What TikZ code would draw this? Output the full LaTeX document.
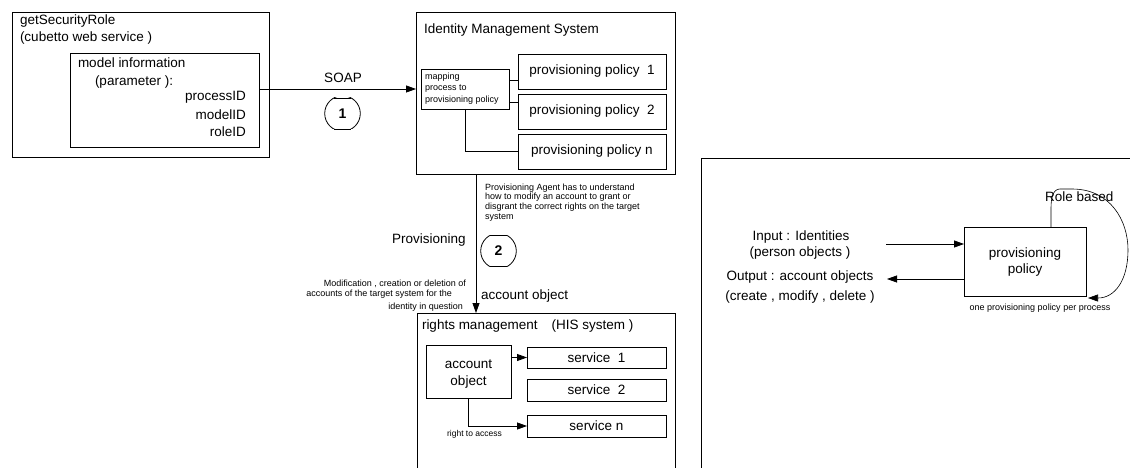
\documentclass[tikz,border=0pt]{standalone}
\usepackage{fontspec}
\setmainfont{Liberation Sans}
\usetikzlibrary{arrows.meta,calc}
\newcommand{\flatcirc}[1]{%
  \begin{scope}
    \clip ($(#1)+(-20,-15.5)$) rectangle ($(#1)+(20,15.5)$);
    \draw[line width=0.8pt] (#1) circle[radius=17.8pt];
  \end{scope}
  \draw[line width=0.8pt] ($(#1)+(-8.8,-15.5)$) -- ($(#1)+(8.8,-15.5)$);
  \draw[line width=0.8pt] ($(#1)+(-8.8,15.5)$) -- ($(#1)+(8.8,15.5)$);}
\begin{document}
\begin{tikzpicture}[x=1pt,y=-1pt,
  every node/.style={font=\fontsize{13.5}{17}\selectfont, inner sep=0pt, outer sep=0pt},
  box/.style={draw, line width=0.8pt, anchor=north west},
  small/.style={font=\fontsize{9}{10.5}\selectfont},
  tiny/.style={font=\fontsize{8.5}{10}\selectfont},
  num/.style={font=\fontsize{14}{16}\bfseries},
  conn/.style={line width=0.8pt},
  arr/.style={line width=0.8pt, -{Triangle[length=10pt,width=7pt]}},
]
\clip (0,0) rectangle (1130,468);
\fill[white] (0,0) rectangle (1130,468);

% ---------- getSecurityRole ----------
\node[box, minimum width=257pt, minimum height=145pt] (gsr) at (12,12) {};
\node[anchor=base west] (gsr1) at (20,24.5) {getSecurityRole};
\node[anchor=base west] (gsr2) at (20,41.5) {(cubetto web service )};
\node[box, minimum width=189pt, minimum height=94pt] (mi) at (70,53) {};
\node[anchor=base west] (mi1) at (78,68) {model information};
\node[anchor=base west] (mi2) at (95,85.5) {(parameter ):};
\node[anchor=base east] (mi3) at (246,101) {processID};
\node[anchor=base east] (mi4) at (246,119.5) {modelID};
\node[anchor=base east] (mi5) at (246,137) {roleID};

% ---------- SOAP ----------
\coordinate (soapy) at (0,89);
\node[anchor=base] (soap) at (343,83) {SOAP};
\node[num] (c1) at (342.5,113.5) {1};
\flatcirc{c1}

% ---------- Identity Management System ----------
\node[box, minimum width=259pt, minimum height=162pt] (ims) at (416,12) {};
\node[anchor=base west] (imst) at (424,34) {Identity Management System};
\node[box, minimum width=88pt, minimum height=40pt] (map) at (421,69) {};
\node[small, anchor=base west] (map1) at (425,79.5) {mapping};
\node[small, anchor=base west] (map2) at (425,91) {process to};
\node[small, anchor=base west] (map3) at (425,103) {provisioning policy};
\node[box, minimum width=148pt, minimum height=35pt] (pp1) at (518,54) {};
\node (pp1t) at (pp1.center) {provisioning policy\ \ 1};
\node[box, minimum width=148pt, minimum height=35pt] (pp2) at (518,94) {};
\node (pp2t) at (pp2.center) {provisioning policy\ \ 2};
\node[box, minimum width=148pt, minimum height=35pt] (ppn) at (518,134) {};
\node (ppnt) at (ppn.center) {provisioning policy n};
\coordinate (y80) at (0,80);
\coordinate (y102) at (0,102);
\draw[conn] (map.east |- y80) -- (pp1.west |- y80);
\draw[conn] (map.east |- y102) -- (pp2.west |- y102);
\draw[conn] (map.south) |- (ppn.west);

\draw[arr] (mi.east |- soapy) -- (ims.west |- soapy);

% ---------- Provisioning ----------
\coordinate (px) at (476,0);
\node[small, anchor=base west] (pa1) at (485,190.5) {Provisioning Agent has to understand};
\node[small, anchor=base west] (pa2) at (485,200) {how to modify an account to grant or};
\node[small, anchor=base west] (pa3) at (485,209.5) {disgrant the correct rights on the target};
\node[small, anchor=base west] (pa4) at (485,219) {system};
\node[anchor=base west] (prov) at (392,243) {Provisioning};
\node[num] (c2) at (498.5,251) {2};
\flatcirc{c2}
\node[anchor=base west] (ao) at (481,299) {account object};
\node[small, anchor=base east] (mod1) at (466,286) {Modification , creation or deletion of};
\node[small, anchor=base east] (mod2) at (452,296.5) {accounts of the target system for the};
\node[small, anchor=base east] (mod3) at (463,309) {identity in question};

% ---------- rights management ----------
\node[box, minimum width=258pt, minimum height=180pt] (rm) at (417,313) {};
\draw[arr] (ims.south -| px) -- (rm.north -| px);
\node[anchor=base west] (rmt) at (422,329) {rights management\hspace{14pt}(HIS system )};
\node[box, minimum width=85pt, minimum height=53pt] (acc) at (426,345) {};
\node[align=center, font=\fontsize{13.5}{16.5}\selectfont] (acct) at (468.5,374) {account\\object};
\node[box, minimum width=139pt, minimum height=21pt] (s1) at (527,347) {};
\node (s1t) at (s1.center) {service\ \ 1};
\node[box, minimum width=139pt, minimum height=22pt] (s2) at (527,379) {};
\node (s2t) at (s2.center) {service\ \ 2};
\node[box, minimum width=139pt, minimum height=22pt] (sn) at (527,415) {};
\node (snt) at (sn.center) {service n};
\draw[arr] (acc.east |- s1) -- (s1.west);
\draw[arr] (acc.south) |- (sn.west);
\node[tiny] (rta) at (474.5,434) {right to access};

% ---------- right panel ----------
\draw[conn] (701,500) -- (701,158) -- (1140,158);
\node[box, minimum width=122pt, minimum height=69pt] (pp) at (964,227) {};
\node[align=center, font=\fontsize{13.5}{16}\selectfont] (ppt) at (1025,262) {provisioning\\policy};
\coordinate (inA) at (886,244);
\coordinate (outA) at (887,279);
\draw[arr] (inA) -- (pp.west |- inA);
\draw[arr] (pp.west |- outA) -- (outA);
\node[anchor=base] (in1) at (801,240) {Input : Identities};
\node[anchor=base] (in2) at (800,256) {(person objects )};
\node[anchor=base] (out1) at (800,280) {Output : account objects};
\node[anchor=base] (out2) at (800,300) {(create , modify , delete )};
\node[anchor=base west] (rb) at (1045,201) {Role based};
\coordinate (lx) at (1051,0);
\coordinate (looptip) at (1088,298);
\draw[line width=0.6pt, -{Triangle[length=10pt,width=7pt]}] (pp.north -| lx) -- (1051,208)
  .. controls (1051,198) and (1053,189) .. (1060,189) -- (1072,189)
  .. controls (1110,189) and (1128,220) .. (1128,250)
  .. controls (1128,280) and (1115,298) .. (1098,298) -- (looptip);
\node[small, anchor=base] (opp) at (1040,310) {one provisioning policy per process};
\end{tikzpicture}
\end{document}
